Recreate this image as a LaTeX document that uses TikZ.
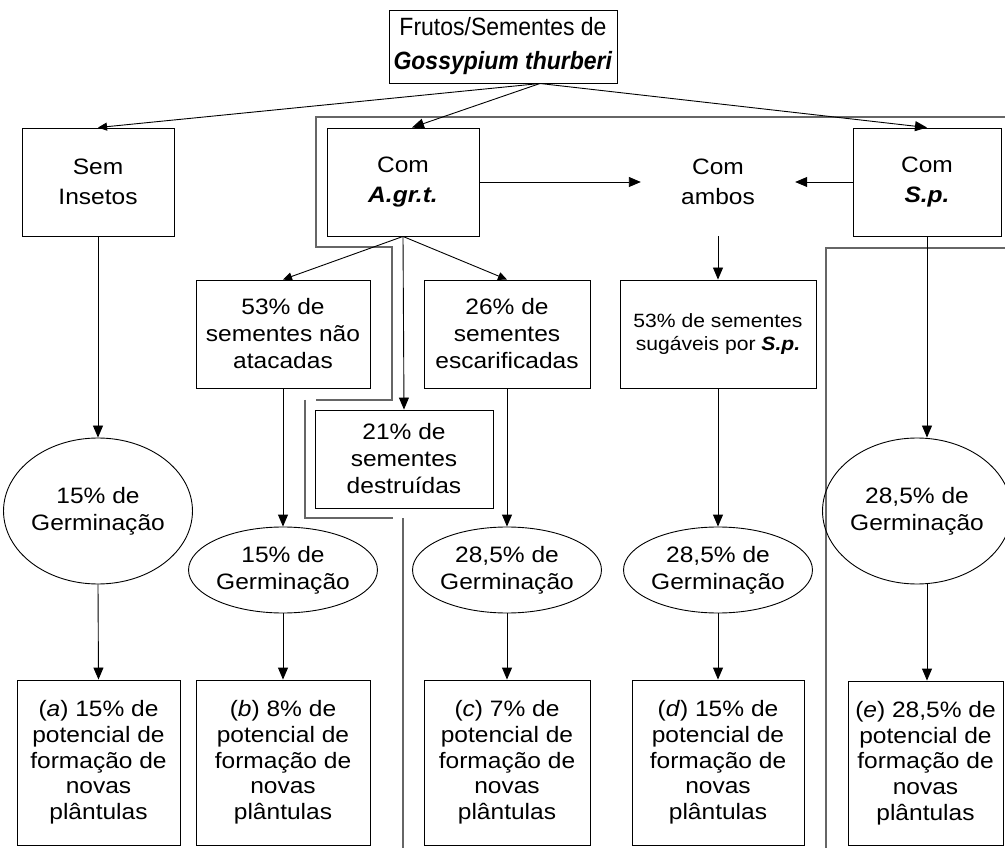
\documentclass[tikz,border=0pt]{standalone}
\usepackage{fontspec}
\setmainfont{Liberation Sans}[FakeStretch=1.1]
\newfontfamily\topfont{Liberation Sans}[FakeStretch=0.92]
\usetikzlibrary{arrows.meta,shapes.geometric}
\newcommand{\mybi}[1]{\textbf{\textit{#1}}}
\begin{document}
\begin{tikzpicture}[x=1pt,y=-1pt,
  box/.style={draw, line width=0.9pt, align=center, inner sep=0pt},
  ell/.style={draw, ellipse, line width=0.9pt, align=center, inner sep=0pt},
  arr/.style={-{Triangle[length=12pt,width=10pt]}, line width=0.9pt},
  arrs/.style={-{Triangle[length=9pt,width=8pt]}, line width=0.9pt},
  framel/.style={draw=black!60, line width=1.1pt},
  ftop/.style={font=\topfont\fontsize{25}{34}\selectfont},
  fone/.style={font=\fontsize{22.3}{30}\selectfont},
  ftwo/.style={font=\fontsize{22.3}{27}\selectfont},
  fsmall/.style={font=\fontsize{19.2}{23.5}\selectfont},
  fbot/.style={font=\fontsize{22.3}{25.7}\selectfont}
]
\useasboundingbox (0,0) rectangle (1005,850);
\fill[white] (0,0) rectangle (1005,850);

% frame lines
\draw[framel] (1005,117) -- (316,117) -- (316,247) -- (392,247) -- (392,400) -- (316,400);
\draw[framel] (305,400) -- (305,518) -- (393,518);
\draw[framel] (403,518) -- (403,848);
\draw[framel] (1005,248) -- (826,248) -- (826,848);

% top
\node[box, ftop, minimum width=228pt, minimum height=73pt] (top) at (503,46.5)
  {Frutos/Sementes de\\\mybi{Gossypium thurberi}};
\coordinate (tc) at (540,83.5);

% row 1
\node[box, fone, minimum width=152pt, minimum height=108pt] (sem) at (98,182) {Sem\\Insetos};
\node[box, fone, minimum width=152pt, minimum height=108pt] (agrt) at (403,182) {Com\\\mybi{A.gr.t.}};
\node[align=center, inner sep=0pt, fone, minimum width=154pt, minimum height=108pt] (ambos) at (718,182) {Com\\ambos};
\node[box, fone, minimum width=148pt, minimum height=108pt] (sp) at (927,182) {Com\\\mybi{S.p.}};

% row 2
\node[box, ftwo, minimum width=174pt, minimum height=108pt] (nao) at (283,334) {53\% de\\sementes não\\atacadas};
\node[box, ftwo, minimum width=166pt, minimum height=108pt] (esc) at (507,334) {26\% de\\sementes\\escarificadas};
\node[box, ftwo, minimum width=178pt, minimum height=98pt] (dest) at (404,459) {21\% de\\sementes\\destruídas};
\node[box, fsmall, minimum width=196pt, minimum height=108pt] (sug) at (718,334) {53\% de sementes\\sugáveis por \mybi{S.p.}};

% row 3 ellipses
\node[ell, ftwo, minimum width=162pt, minimum height=146pt] (ga) at (98,511) {15\% de\\Germinação};
\node[ell, ftwo, minimum width=176pt, minimum height=86pt] (gb) at (283,570) {15\% de\\Germinação};
\node[ell, ftwo, minimum width=170pt, minimum height=86pt] (gc) at (507,570) {28,5\% de\\Germinação};
\node[ell, ftwo, minimum width=172pt, minimum height=86pt] (gd) at (718,570) {28,5\% de\\Germinação};
\node[ell, ftwo, minimum width=174pt, minimum height=146pt] (ge) at (917,511) {28,5\% de\\Germinação};

% row 4
\node[box, fbot, minimum width=163pt, minimum height=165pt] (pa) at (98.5,762.5) {(\textit{a}) 15\% de\\potencial de\\formação de\\novas\\plântulas};
\node[box, fbot, minimum width=174pt, minimum height=165pt] (pb) at (283,762.5) {(\textit{b}) 8\% de\\potencial de\\formação de\\novas\\plântulas};
\node[box, fbot, minimum width=166pt, minimum height=165pt] (pc) at (507,762.5) {(\textit{c}) 7\% de\\potencial de\\formação de\\novas\\plântulas};
\node[box, fbot, minimum width=172pt, minimum height=165pt] (pd) at (718,762.5) {(\textit{d}) 15\% de\\potencial de\\formação de\\novas\\plântulas};
\node[box, fbot, minimum width=155pt, minimum height=164pt] (pe) at (925.5,763) {(\textit{e}) 28,5\% de\\potencial de\\formação de\\novas\\plântulas};

% connectors
\draw[arrs] (tc) -- (sem.north);
\draw[arr] (tc) -- ([xshift=9pt]agrt.north);
\draw[arr] (tc) -- (sp.north);
\draw[arr] (agrt.east) -- (ambos.west);
\draw[arr] (sp.west) -- (ambos.east);
\draw[arr] (ambos.south) -- (sug.north);
\draw[arrs] (agrt.south) -- (nao.north);
\draw[arrs] (agrt.south) -- (esc.north);
\draw[arr] (agrt.south) -- (dest.north);
\draw[arr] (sem.south) -- (ga.north);
\draw[arr] (ga.south) -- (pa.north);
\draw[arr] (nao.south) -- (gb.north);
\draw[arr] (gb.south) -- (pb.north);
\draw[arr] (esc.south) -- (gc.north);
\draw[arr] (gc.south) -- (pc.north);
\draw[arr] (sug.south) -- (gd.north);
\draw[arr] (gd.south) -- (pd.north);
\draw[arr] (sp.south) -- (sp.south |- ge.north);
\draw[arr] ([xshift=10pt]ge.south) -- ([xshift=10pt]ge.south |- pe.north);
\end{tikzpicture}
\end{document}
